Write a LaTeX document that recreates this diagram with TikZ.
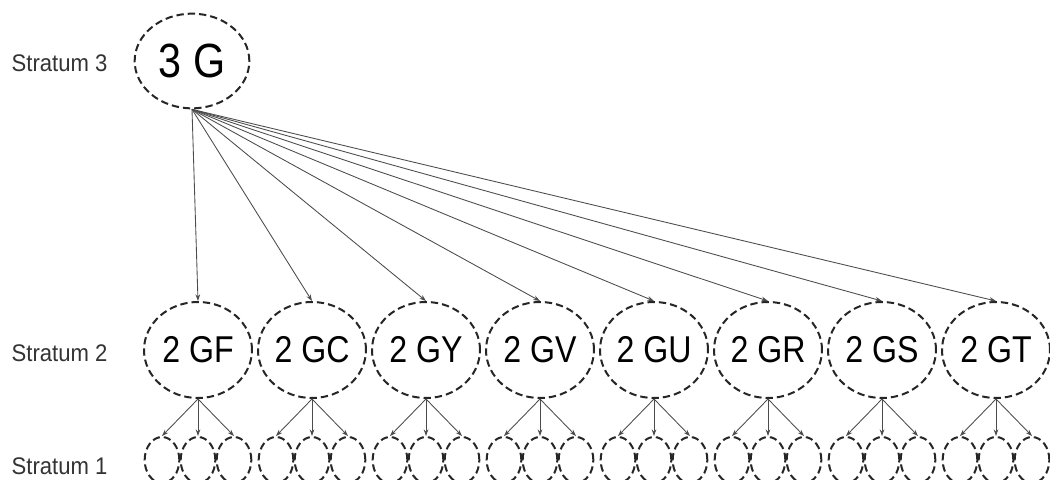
\documentclass[tikz,border=0pt]{standalone}
\usepackage{fontspec}
\setmainfont{Liberation Sans}
\usetikzlibrary{arrows.meta,shapes.geometric}
\newcommand{\narrow}[1]{\scalebox{0.86}[1]{#1}}
\begin{document}
\begin{tikzpicture}[x=0.75pt,y=-0.75pt,
	>={Stealth[length=5pt,width=3.5pt]},
	dashring/.style={draw=black!85,ellipse,inner sep=0pt,line width=1.5pt,dash pattern=on 5.5pt off 3pt},
	topgroup/.style={dashring,minimum width=86pt,minimum height=71pt,font=\fontsize{36}{36}\selectfont},
	midgroup/.style={dashring,minimum width=81pt,minimum height=72pt,font=\fontsize{28}{28}\selectfont},
	leaf/.style={dashring,minimum width=26pt,minimum height=34.5pt},
	link/.style={->,draw=black!70,line width=0.65pt},
	stratum/.style={anchor=west,font=\fontsize{18}{18}\selectfont,text=black!80}]

	\def\xstart{198}
	\def\xgap{114}
	\def\xleaf{36}

	\useasboundingbox (0,0) rectangle (1050,479);
	\clip (0,0) rectangle (1050,479);

	\node[stratum] (s3) at (7,63) {\scalebox{0.92}[1]{Stratum 3}};
	\node[stratum] (s2) at (7,353) {\scalebox{0.92}[1]{Stratum 2}};
	\node[stratum] (s1) at (7,466) {\scalebox{0.92}[1]{Stratum 1}};

	\node[topgroup] (G) at (192,61) {\narrow{3 G}};

	\foreach \n [count=\i from 0] in {GF,GC,GY,GV,GU,GR,GS,GT} {
		\node[midgroup] (\n) at (\xstart+\xgap*\i,350) {\narrow{2 \n}};
		\draw[link] (G.south) -- (\n.north);
		\foreach \j in {-1,0,1} {
			\node[leaf] (\n\j) at (\xstart+\xgap*\i+\xleaf*\j,460) {};
			\draw[link] (\n.south) -- (\n\j.north);
		}
	}
\end{tikzpicture}
\end{document}
